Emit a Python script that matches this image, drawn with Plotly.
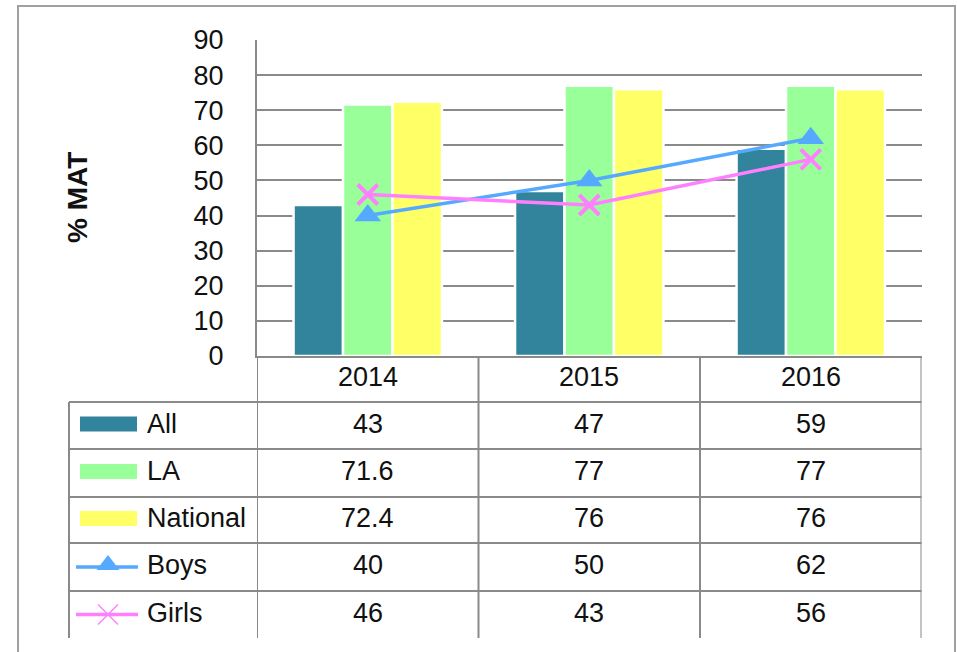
import plotly.graph_objects as go

years = ["2014", "2015", "2016"]
all_vals = [43, 47, 59]
la_vals = [71.6, 77, 77]
national_vals = [72.4, 76, 76]
boys_vals = [40, 50, 62]
girls_vals = [46, 43, 56]
series_names = ["All", "LA", "National", "Boys", "Girls"]
y_ticks = [0, 10, 20, 30, 40, 50, 60, 70, 80, 90]
y_title = "% MAT"

W, H = 957, 652
FONT = "Liberation Sans"
FS = 27
GRID = "#8a8a8a"
C_ALL = "#31849B"
C_LA = "#99FF99"
C_NAT = "#FFFF66"
C_BOYS = "#55AAFF"
C_GIRLS = "#FF80FF"

def py(y):
    return 1 - y / H

fig = go.Figure()

# Bars
for name, vals, col in [("All", all_vals, C_ALL), ("LA", la_vals, C_LA), ("National", national_vals, C_NAT)]:
    fig.add_trace(go.Bar(x=years, y=vals, name=name, marker=dict(color=col, line=dict(color="white", width=2.5)),
                         xaxis="x", yaxis="y", showlegend=False))

# Lines
fig.add_trace(go.Scatter(x=years, y=boys_vals, name="Boys", mode="lines+markers",
                         line=dict(color=C_BOYS, width=3.5),
                         marker=dict(symbol="triangle-up", size=23, color=C_BOYS),
                         xaxis="x", yaxis="y", showlegend=False))
fig.add_trace(go.Scatter(x=years, y=girls_vals, name="Girls", mode="lines+markers",
                         line=dict(color=C_GIRLS, width=3.5),
                         marker=dict(symbol="x-thin", size=20, color=C_GIRLS, line=dict(color=C_GIRLS, width=4)),
                         xaxis="x", yaxis="y", showlegend=False))

# Table geometry (pixel coords in overlay axes)
row_edges = [357, 402, 449, 497, 543, 591, 638]
label_left = 69
key_x0, key_x1 = 80, 137
text_x = 145

shapes = []
line_style = dict(color=GRID, width=2)
# Outer frame
shapes.append(dict(type="rect", xref="x2", yref="y2", x0=18, x1=955, y0=6, y1=700,
                   line=dict(color="#a0a0a0", width=2), fillcolor="rgba(0,0,0,0)"))
# Horizontal table lines
for yy in row_edges[1:-1]:
    shapes.append(dict(type="line", xref="x2", yref="y2", x0=label_left, x1=921.5, y0=yy, y1=yy, line=line_style))
# Label column left edge
shapes.append(dict(type="line", xref="x2", yref="y2", x0=label_left, x1=label_left, y0=row_edges[1], y1=row_edges[-1], line=line_style))
# Column dividers following category scale
for i in range(len(years) + 1):
    shapes.append(dict(type="line", xref="x", yref="y2", x0=i - 0.5, x1=i - 0.5, y0=row_edges[0], y1=row_edges[-1], line=line_style))

annotations = []
# Header years
for i, yr in enumerate(years):
    annotations.append(dict(x=i, y=(row_edges[0] + row_edges[1]) / 2 - 3, xref="x", yref="y2", text=yr, showarrow=False,
                            font=dict(family=FONT, size=FS, color="#111"), xanchor="center", yanchor="middle"))
# Data rows
table_rows = [all_vals, la_vals, national_vals, boys_vals, girls_vals]
for r, (name, vals) in enumerate(zip(series_names, table_rows)):
    yc = (row_edges[r + 1] + row_edges[r + 2]) / 2 - 2
    for i, v in enumerate(vals):
        annotations.append(dict(x=i, y=yc, xref="x", yref="y2", text=str(v), showarrow=False,
                                font=dict(family=FONT, size=FS, color="#111"), xanchor="center", yanchor="middle"))
    annotations.append(dict(x=text_x, y=yc, xref="x2", yref="y2", text=name, showarrow=False,
                            font=dict(family=FONT, size=FS, color="#111"), xanchor="left", yanchor="middle"))
    if r < 3:
        col = [C_ALL, C_LA, C_NAT][r]
        shapes.append(dict(type="rect", xref="x2", yref="y2", x0=key_x0, x1=key_x1, y0=yc - 7, y1=yc + 8,
                           fillcolor=col, line=dict(width=0)))

# Legend keys for line series
yb = (row_edges[4] + row_edges[5]) / 2
yg = (row_edges[5] + row_edges[6]) / 2
fig.add_trace(go.Scatter(x=[76, 138], y=[yb, yb], mode="lines", line=dict(color=C_BOYS, width=3.5),
                         xaxis="x2", yaxis="y2", showlegend=False, hoverinfo="skip"))
fig.add_trace(go.Scatter(x=[108], y=[yb - 2], mode="markers", marker=dict(symbol="triangle-up", size=20, color=C_BOYS),
                         xaxis="x2", yaxis="y2", showlegend=False, hoverinfo="skip"))
fig.add_trace(go.Scatter(x=[76, 138], y=[yg, yg], mode="lines", line=dict(color=C_GIRLS, width=3.5),
                         xaxis="x2", yaxis="y2", showlegend=False, hoverinfo="skip"))
fig.add_trace(go.Scatter(x=[108], y=[yg], mode="markers",
                         marker=dict(symbol="x-thin", size=20, color=C_GIRLS, line=dict(color=C_GIRLS, width=1.5)),
                         xaxis="x2", yaxis="y2", showlegend=False, hoverinfo="skip"))

# Y axis title
annotations.append(dict(x=77, y=198, xref="x2", yref="y2", text="<b>" + y_title + "</b>", showarrow=False, textangle=-90,
                        font=dict(family=FONT, size=28, color="#111"), xanchor="center", yanchor="middle"))

fig.update_layout(
    template="none",
    width=W, height=H, autosize=False,
    margin=dict(l=0, r=0, t=0, b=0, pad=0, autoexpand=False),
    paper_bgcolor="white", plot_bgcolor="rgba(0,0,0,0)",
    barmode="group", bargap=0.33, bargroupgap=0,
    showlegend=False,
    font=dict(family=FONT, size=FS, color="#111"),
    xaxis=dict(domain=[257 / W, 921.5 / W], type="category", range=[-0.5, 2.5], showticklabels=False,
               showgrid=False, showline=True, linecolor=GRID, linewidth=2, zeroline=False, fixedrange=True,
               automargin=False, ticks=""),
    yaxis=dict(domain=[py(356), py(40)], range=[0, 90], tickvals=y_ticks, ticks="", showgrid=True,
               gridcolor=GRID, gridwidth=2, showline=True, linecolor=GRID, linewidth=2, zeroline=False,
               ticklabelstandoff=26, tickfont=dict(family=FONT, size=FS, color="#111"), fixedrange=True,
               automargin=False),
    xaxis2=dict(domain=[0, 1], range=[0, W], visible=False, anchor="y2", fixedrange=True, automargin=False),
    yaxis2=dict(domain=[0, 1], range=[H, 0], visible=False, anchor="x2", fixedrange=True, automargin=False),
    shapes=shapes, annotations=annotations,
)

fig.write_html("out.html", config={"displayModeBar": False},
               post_script="document.body.style.margin='0px';")
